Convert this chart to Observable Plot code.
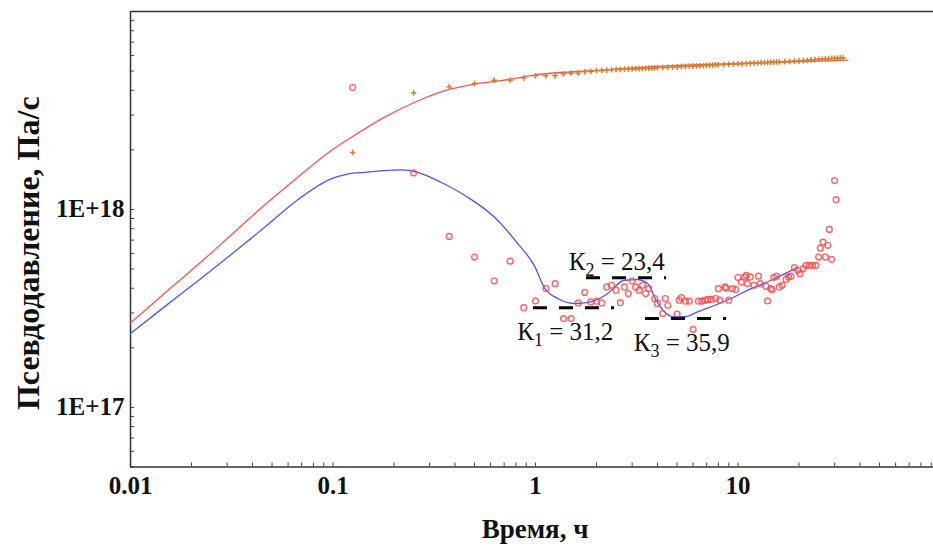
<!DOCTYPE html>
<html><head><meta charset="utf-8">
<script src="https://cdn.jsdelivr.net/npm/d3@7"></script>
<script src="https://cdn.jsdelivr.net/npm/@observablehq/plot@0.6"></script>
<style>body{margin:0;background:#fff}</style>
</head><body>
<script>
// Model (type curve) pseudo-pressure – red line
const modelTime = [0.01,0.0147,0.0215,0.0313,0.0458,0.067,0.0977,0.1228,0.179,0.252,0.383,0.5,0.676,0.983,2.11,4.51,9.55,20.5,34.9];
const modelPressure = [2.67e17,3.76e17,5.25e17,7.4e17,1.05e18,1.455e18,1.98e18,2.31e18,2.92e18,3.47e18,4.06e18,4.30e18,4.47e18,4.77e18,5.06e18,5.31e18,5.46e18,5.58e18,5.68e18];
// Model derivative – blue line
const derivModelTime = [0.01,0.0147,0.0215,0.0313,0.0458,0.067,0.0977,0.118,0.1428,0.2168,0.262,0.341,0.4625,0.626,0.817,0.986,1.11,1.287,1.555,1.879,2.27,2.745,3.2,3.58,3.94,4.33,4.76,5.43,6.32,9.24,11.16,14.55,19.7];
const derivModel = [2.36e17,3.22e17,4.35e17,5.9e17,8.1e17,1.12e18,1.428e18,1.51e18,1.54e18,1.585e18,1.54e18,1.372e18,1.153e18,9.15e17,6.72e17,5.2e17,4.0e17,3.55e17,3.35e17,3.41e17,3.76e17,4.39e17,4.42e17,4.23e17,3.48e17,3.04e17,2.87e17,2.87e17,3.04e17,3.55e17,3.91e17,4.39e17,5.10e17];
// Measured pseudo-pressure – orange crosses
const pressTime = [0.125,0.25,0.375,0.5,0.625,0.75,0.875,1,1.125,1.25,1.375,1.5,1.625,1.75,1.875,2,2.125,2.25,2.375,2.5,2.625,2.75,2.875,3,3.125,3.25,3.375,3.5,3.625,3.75,3.875,4,4.25,4.5,4.75,5,5.25,5.5,5.75,6,6.25,6.5,6.75,7,7.25,7.5,7.75,8,8.5,9,9.5,10,10.5,11,11.5,12,12.5,13,13.5,14,14.5,15,15.5,16,17,18,19,20,21,22,23,24,25,26,27,28,29,30,31,32,33];
const pressValue = [1.94e18,3.88e18,4.17e18,4.33e18,4.50e18,4.50e18,4.61e18,4.73e18,4.73e18,4.73e18,4.83e18,4.88e18,4.88e18,4.96e18,4.98e18,5.02e18,5.04e18,5.06e18,5.08e18,5.09e18,5.10e18,5.12e18,5.12e18,5.13e18,5.14e18,5.14e18,5.15e18,5.16e18,5.17e18,5.18e18,5.19e18,5.21e18,5.21e18,5.22e18,5.24e18,5.25e18,5.27e18,5.28e18,5.29e18,5.30e18,5.31e18,5.31e18,5.33e18,5.34e18,5.35e18,5.36e18,5.37e18,5.38e18,5.39e18,5.41e18,5.42e18,5.43e18,5.44e18,5.46e18,5.47e18,5.48e18,5.50e18,5.51e18,5.52e18,5.53e18,5.54e18,5.55e18,5.56e18,5.57e18,5.59e18,5.60e18,5.62e18,5.63e18,5.65e18,5.67e18,5.69e18,5.71e18,5.73e18,5.75e18,5.76e18,5.78e18,5.79e18,5.80e18,5.82e18,5.83e18,5.83e18];
// Measured derivative – red circles
const derivTime = [0.125,0.25,0.375,0.5,0.625,0.75,0.875,1,1.125,1.25,1.375,1.5,1.625,1.75,1.875,2,2.125,2.25,2.375,2.5,2.625,2.75,2.875,3,3.125,3.25,3.375,3.5,3.625,3.875,4,4.25,4.375,4.5,5,5.125,5.25,5.5,5.75,6,6.375,6.625,6.875,7.125,7.375,7.75,8,8.125,8.625,8.75,9,9.375,9.75,10,10.375,10.75,11,11.125,11.5,12,12.625,12.875,13.75,14,14.5,14.75,15,15.5,16,16.5,17.25,17.75,18.25,19,19.75,20.25,21,21.625,22.5,23.375,24.25,25,25.5,26.25,27,27.75,28.25,29,30,30.5];
const derivValue = [4.13e18,1.53e18,7.31e17,5.75e17,4.36e17,5.48e17,3.19e17,3.45e17,3.99e17,4.22e17,2.81e17,2.81e17,3.37e17,3.81e17,3.41e17,3.44e17,3.37e17,4.06e17,4.14e17,3.91e17,3.38e17,4.06e17,3.76e17,4.36e17,4.06e17,3.91e17,4.14e17,3.76e17,3.99e17,3.55e17,3.35e17,2.98e17,3.55e17,3.28e17,2.96e17,3.48e17,3.59e17,3.44e17,3.44e17,2.48e17,3.44e17,3.44e17,3.48e17,3.51e17,3.51e17,3.55e17,3.98e17,3.48e17,4.06e17,4.01e17,3.48e17,3.98e17,3.94e17,4.53e17,4.30e17,4.56e17,4.65e17,4.22e17,4.56e17,4.14e17,4.60e17,4.22e17,4.09e17,3.45e17,3.98e17,3.94e17,4.53e17,4.60e17,4.06e17,4.14e17,4.44e17,4.56e17,4.60e17,5.08e17,4.93e17,4.74e17,5.03e17,5.22e17,5.22e17,5.22e17,5.22e17,5.75e17,6.38e17,6.84e17,5.75e17,6.59e17,7.93e17,5.60e17,1.40e18,1.12e18];
// Permeability segments (dashed levels) and their labels
const kIndex = ["1","2","3"];
const kText = ["31,2","23,4","35,9"];
const kStart = [0.977,1.786,3.493];
const kEnd = [2.455,4.436,8.776];
const kLevel = [3.19e17,4.52e17,2.81e17];
const kLabelTime = [0.812,1.46,3.058];
const kLabelLevel = [2.18e17,4.96e17,1.918e17];
// Axis ticks
const xMajor = [0.01,0.1,1,10];
const xMajorLabels = ["0.01","0.1","1","10"];
const yMajor = [1e17,1e18];
const yMajorLabels = ["1E+17","1E+18"];
const xTitle = "Время, ч";
const yTitle = "Псевдодавление, Па/с";

const xMinor = [];
for (const e of [-2,-1,0,1]) for (let m = 1; m <= 9; m++) { const v = m * Math.pow(10, e); if (v < 92) xMinor.push(v); }
const yMinor = [];
for (const e of [16,17,18]) for (let m = 1; m <= 9; m++) { const v = m * Math.pow(10, e); if (v >= 5e16 && v <= 1e19) yMinor.push(v); }

const model = modelTime.map((t,i)=>({t, v: modelPressure[i]}));
const dModel = derivModelTime.map((t,i)=>({t, v: derivModel[i]}));
const press = pressTime.map((t,i)=>({t, v: pressValue[i]}));
const deriv = derivTime.map((t,i)=>({t, v: derivValue[i]}));
const ks = kIndex.map((k,i)=>({k, label: "К" + k + " = " + kText[i], t0: kStart[i], t1: kEnd[i], level: kLevel[i], lx: kLabelTime[i], ly: kLabelLevel[i]}));

const serif = "Liberation Serif, Times New Roman, serif";
const fmtX = d => xMajorLabels[xMajor.indexOf(d)];
const fmtY = d => yMajorLabels[yMajor.indexOf(d)];

const svg = Plot.plot({
  width: 933, height: 548,
  marginLeft: 130, marginRight: 0, marginTop: 11, marginBottom: 81.5,
  x: {type: "log", domain: [0.01, 92.3]},
  y: {type: "log", domain: [5e16, 1e19]},
  style: {background: "#fff", fontFamily: serif},
  marks: [
    Plot.axisX({ticks: xMinor, tickSize: -4, tickFormat: () => "", label: null, stroke: "#444"}),
    Plot.axisY({ticks: yMinor, tickSize: -4, tickFormat: () => "", label: null, stroke: "#444"}),
    Plot.axisX({ticks: xMajor, tickSize: 0, tickPadding: 9, tickFormat: fmtX, label: null, fontSize: 25, fontWeight: "bold", fontFamily: serif, fill: "#111"}),
    Plot.axisY({ticks: yMajor, tickSize: 0, tickPadding: 6, tickFormat: fmtY, label: null, fontSize: 25, fontWeight: "bold", fontFamily: serif, fill: "#111"}),
    Plot.ruleX([0.01], {stroke: "#333", strokeWidth: 1.5}),
    Plot.ruleY([5e16, 1e19], {stroke: "#333", strokeWidth: 1.5}),
    Plot.line(model, {x: "t", y: "v", stroke: "#ff5050", strokeWidth: 1.3, curve: "monotone-x"}),
    Plot.line(dModel, {x: "t", y: "v", stroke: "#5050ff", strokeWidth: 1.3, curve: "monotone-x"}),
    Plot.dot(press, {x: "t", y: "v", symbol: "plus", r: 2, stroke: "#cf8330", strokeWidth: 1.5}),
    Plot.dot(deriv, {x: "t", y: "v", r: 2.9, stroke: "#ff4848", strokeWidth: 1.4, fill: "none", strokeOpacity: 0.85}),
    Plot.ruleY(ks, {y: "level", x1: "t0", x2: "t1", stroke: "#000", strokeWidth: 3, strokeDasharray: "14,12"}),
    Plot.text(ks, {x: "lx", y: "ly", text: "label", textAnchor: "start", lineAnchor: "bottom", fontSize: 25, fontFamily: serif, fill: "#111"}),
    Plot.text([xTitle], {text: d => d, frameAnchor: "bottom", textAnchor: "middle", dx: 3, dy: 70.5, lineAnchor: "bottom", fontSize: 27, fontWeight: "bold", fontFamily: serif, fill: "#111"}),
    Plot.text([yTitle], {text: d => d, frameAnchor: "left", textAnchor: "middle", dx: -102, dy: 14, rotate: -90, fontSize: 32, fontWeight: "bold", fontFamily: serif, fill: "#111"})
  ]
});

// subscripts for К labels
svg.querySelectorAll("text").forEach(el => {
  const s = el.textContent;
  if (/^К\d = /.test(s)) {
    const ns = "http://www.w3.org/2000/svg";
    el.textContent = "";
    el.setAttribute("font-family", "Liberation Serif");
    el.style.fontFamily = "'Liberation Serif', serif";
    el.style.fontWeight = "normal";
    const a = document.createElementNS(ns, "tspan"); a.textContent = "К";
    const b = document.createElementNS(ns, "tspan"); b.textContent = s[1]; b.setAttribute("font-size", "18"); b.setAttribute("dy", "6");
    const c = document.createElementNS(ns, "tspan"); c.textContent = s.slice(2); c.setAttribute("dy", "-6");
    el.append(a, b, c);
  }
});
document.body.appendChild(svg);
</script>
</body></html>
